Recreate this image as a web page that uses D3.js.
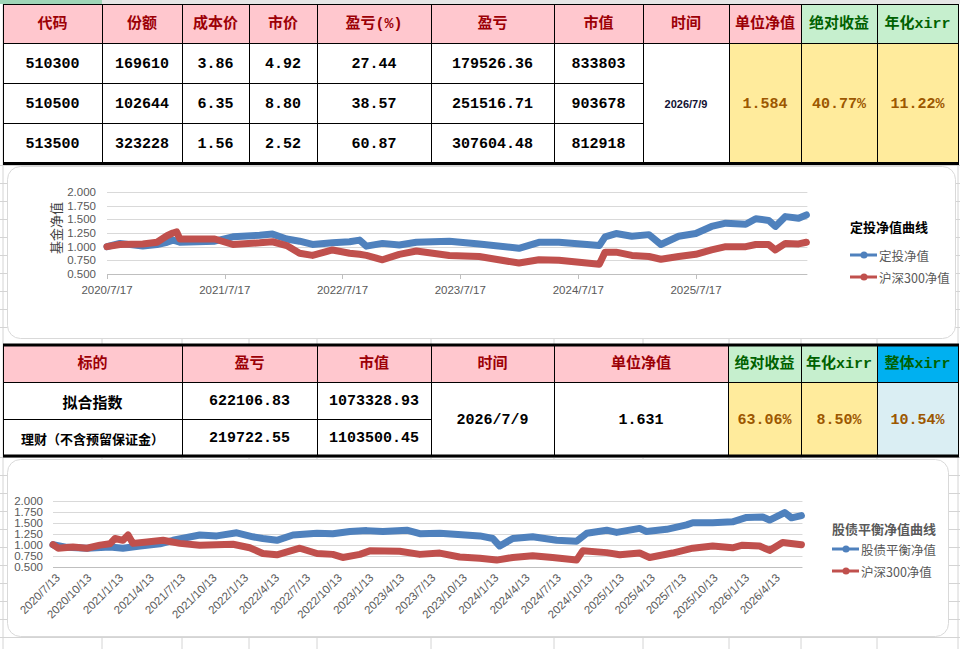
<!DOCTYPE html>
<html>
<head>
<meta charset="utf-8">
<script src="https://cdn.jsdelivr.net/npm/d3@7"></script>
<style>
  body { margin: 0; background: #fff; overflow: hidden; }
  svg { display: block; }
</style>
</head>
<body>
<div id="sheet"></div>
<script>
// ---------- table 1 data ----------
var t1Headers = ["代码", "份额", "成本价", "市价", "盈亏(%)", "盈亏", "市值", "时间", "单位净值", "绝对收益", "年化xirr"];
var t1Codes = ["510300", "510500", "513500"];
var t1Shares = ["169610", "102644", "323228"];
var t1Cost = ["3.86", "6.35", "1.56"];
var t1Price = ["4.92", "8.80", "2.52"];
var t1PnlPct = ["27.44", "38.57", "60.87"];
var t1Pnl = ["179526.36", "251516.71", "307604.48"];
var t1Value = ["833803", "903678", "812918"];
var t1Date = "2026/7/9";
var t1Summary = ["1.584", "40.77%", "11.22%"];

// ---------- table 2 data ----------
var t2Headers = ["标的", "盈亏", "市值", "时间", "单位净值", "绝对收益", "年化xirr", "整体xirr"];
var t2Names = ["拟合指数", "理财（不含预留保证金）"];
var t2Pnl = ["622106.83", "219722.55"];
var t2Value = ["1073328.93", "1103500.45"];
var t2Date = "2026/7/9";
var t2Nav = "1.631";
var t2Summary = ["63.06%", "8.50%", "10.54%"];

// ---------- chart 1: 定投净值曲线 ----------
var c1Dates = ["2020-07-17", "2020-08-26", "2020-11-05", "2020-12-19", "2021-01-19", "2021-02-06", "2021-02-18", "2021-02-28",
  "2021-06-16", "2021-08-11", "2021-11-02", "2021-12-12", "2022-01-25", "2022-03-06", "2022-04-15", "2022-06-16",
  "2022-08-08", "2022-09-08", "2022-09-29", "2022-11-18", "2023-01-09", "2023-03-03", "2023-06-13", "2023-09-14",
  "2024-01-15", "2024-03-17", "2024-05-18", "2024-09-20", "2024-10-08", "2024-11-11", "2024-12-30", "2025-02-21",
  "2025-03-30", "2025-05-24", "2025-07-16", "2025-09-03", "2025-10-17", "2025-12-18", "2026-01-18", "2026-02-27",
  "2026-03-20", "2026-04-20", "2026-05-31", "2026-06-24"];
var c1Fund = [1.00, 1.06, 1.01, 1.04, 1.08, 1.12, 1.10, 1.08, 1.10, 1.18, 1.21, 1.23, 1.14, 1.10, 1.04, 1.07,
  1.09, 1.12, 1.01, 1.06, 1.03, 1.08, 1.10, 1.05, 0.97, 1.08, 1.08, 1.02, 1.18, 1.24, 1.19, 1.22,
  1.04, 1.19, 1.24, 1.37, 1.43, 1.41, 1.51, 1.48, 1.37, 1.55, 1.52, 1.58];
var c1Hs300 = [1.00, 1.04, 1.05, 1.08, 1.20, 1.25, 1.27, 1.14, 1.14, 1.04, 1.07, 1.09, 1.02, 0.88, 0.84, 0.94,
  0.88, 0.86, 0.84, 0.76, 0.86, 0.92, 0.84, 0.82, 0.70, 0.76, 0.75, 0.68, 0.90, 0.90, 0.84, 0.82,
  0.77, 0.82, 0.86, 0.94, 1.00, 1.00, 1.04, 1.04, 0.94, 1.06, 1.05, 1.08];
var c1Ticks = ["2020/7/17", "2021/7/17", "2022/7/17", "2023/7/17", "2024/7/17", "2025/7/17"];
var c1Names = ["定投净值", "沪深300净值"];

// ---------- chart 2: 股债平衡净值曲线 ----------
var c2FundDates = ["2020-07-13", "2020-08-23", "2020-10-20", "2020-12-26", "2021-02-02", "2021-03-24", "2021-05-21", "2021-06-28",
  "2021-09-14", "2021-11-03", "2021-12-31", "2022-02-16", "2022-03-17", "2022-04-27", "2022-06-13", "2022-08-22",
  "2022-10-07", "2022-11-26", "2023-01-14", "2023-03-02", "2023-05-11", "2023-06-18", "2023-08-15", "2023-12-10",
  "2024-01-17", "2024-02-06", "2024-03-15", "2024-05-12", "2024-07-21", "2024-09-17", "2024-10-17", "2024-12-14",
  "2025-01-12", "2025-03-20", "2025-04-09", "2025-06-07", "2025-08-04", "2025-08-22", "2025-10-19", "2025-12-16",
  "2026-01-26", "2026-03-14", "2026-04-03", "2026-05-17", "2026-06-06", "2026-07-05"];
var c2Fund = [1.00, 0.94, 0.92, 0.95, 0.92, 0.97, 1.02, 1.10, 1.22, 1.20, 1.27, 1.18, 1.14, 1.10, 1.22, 1.26,
  1.25, 1.30, 1.32, 1.30, 1.33, 1.25, 1.26, 1.20, 1.14, 0.97, 1.14, 1.18, 1.10, 1.08, 1.26, 1.33,
  1.28, 1.37, 1.30, 1.35, 1.45, 1.50, 1.50, 1.52, 1.62, 1.63, 1.56, 1.73, 1.61, 1.66];
var c2HsDates = ["2020-07-13", "2020-07-28", "2020-09-09", "2020-10-20", "2020-11-27", "2020-12-26", "2021-01-10", "2021-02-02",
  "2021-02-17", "2021-03-03", "2021-04-13", "2021-05-30", "2021-07-18", "2021-09-14", "2021-12-20", "2022-02-07",
  "2022-03-17", "2022-04-27", "2022-07-03", "2022-08-22", "2022-10-07", "2022-11-05", "2022-12-25", "2023-01-23",
  "2023-04-20", "2023-06-18", "2023-08-15", "2023-10-12", "2023-12-10", "2024-01-28", "2024-03-15", "2024-05-12",
  "2024-07-09", "2024-09-17", "2024-10-05", "2024-12-14", "2025-01-21", "2025-03-20", "2025-04-18", "2025-06-24",
  "2025-08-22", "2025-10-19", "2025-12-16", "2026-01-14", "2026-03-05", "2026-04-03", "2026-05-11", "2026-07-05"];
var c2Hs300 = [1.00, 0.92, 0.95, 0.92, 0.99, 1.02, 1.14, 1.10, 1.22, 1.03, 1.06, 1.10, 1.03, 0.99, 1.01, 0.93,
  0.80, 0.77, 0.92, 0.80, 0.78, 0.71, 0.78, 0.86, 0.85, 0.78, 0.81, 0.72, 0.69, 0.65, 0.71, 0.75,
  0.71, 0.65, 0.86, 0.82, 0.77, 0.81, 0.71, 0.81, 0.92, 0.97, 0.93, 0.99, 0.97, 0.87, 1.05, 1.00];
var c2Ticks = ["2020/7/13", "2020/10/13", "2021/1/13", "2021/4/13", "2021/7/13", "2021/10/13", "2022/1/13", "2022/4/13",
  "2022/7/13", "2022/10/13", "2023/1/13", "2023/4/13", "2023/7/13", "2023/10/13", "2024/1/13", "2024/4/13",
  "2024/7/13", "2024/10/13", "2025/1/13", "2025/4/13", "2025/7/13", "2025/10/13", "2026/1/13", "2026/4/13"];
var c2Names = ["股债平衡净值", "沪深300净值"];

var yTicks = [0.5, 0.75, 1.0, 1.25, 1.5, 1.75, 2.0];

// ---------- styles ----------
var MONO = "'Liberation Mono','Noto Sans CJK SC',monospace";
var CJK = "'Noto Sans CJK SC',sans-serif";
var SANS = "'Liberation Sans','Noto Sans CJK SC',sans-serif";
var BLUE = "#4F81BD", RED = "#C0504D";
var PINK = "#FFC7CE", PINK_T = "#9C0006";
var GREEN = "#C6EFCE", GREEN_T = "#006100";
var YELLOW = "#FFEB9C", YELLOW_T = "#9C5700";

var W = 960, H = 649;
var svg = d3.select("#sheet").append("svg").attr("width", W).attr("height", H);
var parseD = d3.timeParse("%Y-%m-%d");
var parseS = d3.timeParse("%Y/%m/%d");

// spreadsheet grid behind everything
var colX = [3, 102, 182, 249, 317, 431, 554, 643, 729, 801, 877, 958];
var bg = svg.append("g");
bg.selectAll("line.v").data(colX).join("line")
  .attr("x1", d => d).attr("x2", d => d).attr("y1", 0).attr("y2", H)
  .attr("stroke", "#D4D4D4");
var rowY = d3.range(165, 345, 18).concat(d3.range(457, H, 18));
bg.selectAll("line.h").data(rowY).join("line")
  .attr("x1", 0).attr("x2", W).attr("y1", d => d + 0.5).attr("y2", d => d + 0.5)
  .attr("stroke", "#D4D4D4");
bg.append("rect").attr("x", 0).attr("y", 0).attr("width", W).attr("height", 4).attr("fill", "#E6E6E6");
bg.append("rect").attr("x", 0).attr("y", 0).attr("width", 102).attr("height", 4).attr("fill", "#9FD5B7");

function cell(g, x0, x1, y0, y1, fill, txt, color, size, font) {
  g.append("rect").attr("x", x0 + 0.5).attr("y", y0 + 0.5)
    .attr("width", x1 - x0).attr("height", y1 - y0)
    .attr("fill", fill).attr("stroke", "#000").attr("stroke-width", 1);
  g.append("text").attr("x", (x0 + x1) / 2).attr("y", (y0 + y1) / 2 + 1)
    .attr("text-anchor", "middle").attr("dominant-baseline", "central")
    .style("font-family", font || MONO).style("font-weight", "bold")
    .style("font-size", (size || 15) + "px").attr("fill", color || "#000")
    .text(txt);
}

// ---------- table 1 ----------
var tb1 = svg.append("g");
var r1 = [4, 43, 83, 123, 163];
t1Headers.forEach(function(h, i) {
  var green = i >= 9;
  cell(tb1, colX[i], colX[i + 1], r1[0], r1[1], green ? GREEN : PINK, h, green ? GREEN_T : PINK_T, 15, MONO);
});
var t1Cols = [t1Codes, t1Shares, t1Cost, t1Price, t1PnlPct, t1Pnl, t1Value];
t1Cols.forEach(function(col, i) {
  col.forEach(function(v, r) {
    cell(tb1, colX[i], colX[i + 1], r1[r + 1], r1[r + 2], "#fff", v, "#000", 15, MONO);
  });
});
cell(tb1, colX[7], colX[8], r1[1], r1[4], "#fff", t1Date, "#111133", 11, SANS);
t1Summary.forEach(function(v, i) {
  cell(tb1, colX[8 + i], colX[9 + i], r1[1], r1[4], YELLOW, v, YELLOW_T, 15, MONO);
});
tb1.append("line").attr("x1", 3).attr("x2", 959).attr("y1", 163.5).attr("y2", 163.5)
  .attr("stroke", "#000").attr("stroke-width", 3);

// ---------- table 2 ----------
var tb2 = svg.append("g");
var c2X = [3, 182, 317, 431, 554, 728, 801, 877, 958];
var r2 = [345, 382, 419, 456];
t2Headers.forEach(function(h, i) {
  var fill = i < 5 ? PINK : (i < 7 ? GREEN : "#00B0F0");
  cell(tb2, c2X[i], c2X[i + 1], r2[0], r2[1], fill, h, i < 5 ? PINK_T : GREEN_T, 15, MONO);
});
cell(tb2, c2X[0], c2X[1], r2[1], r2[2], "#fff", t2Names[0], "#000", 15, CJK);
cell(tb2, c2X[0], c2X[1], r2[2], r2[3], "#fff", t2Names[1], "#000", 13, CJK);
t2Pnl.forEach(function(v, r) { cell(tb2, c2X[1], c2X[2], r2[r + 1], r2[r + 2], "#fff", v, "#000", 15, MONO); });
t2Value.forEach(function(v, r) { cell(tb2, c2X[2], c2X[3], r2[r + 1], r2[r + 2], "#fff", v, "#000", 15, MONO); });
cell(tb2, c2X[3], c2X[4], r2[1], r2[3], "#fff", t2Date, "#000", 15, MONO);
cell(tb2, c2X[4], c2X[5], r2[1], r2[3], "#fff", t2Nav, "#000", 15, MONO);
t2Summary.forEach(function(v, i) {
  cell(tb2, c2X[5 + i], c2X[6 + i], r2[1], r2[3], i < 2 ? YELLOW : "#DAEEF3", v, YELLOW_T, 15, MONO);
});
tb2.append("line").attr("x1", 3).attr("x2", 959).attr("y1", 345).attr("y2", 345)
  .attr("stroke", "#000").attr("stroke-width", 3);
tb2.append("line").attr("x1", 3).attr("x2", 959).attr("y1", 456).attr("y2", 456)
  .attr("stroke", "#000").attr("stroke-width", 3);

// ---------- chart drawing ----------
function drawChart(opt) {
  var g = svg.append("g");
  g.append("rect").attr("x", opt.box[0] + 0.5).attr("y", opt.box[1] + 0.5)
    .attr("width", opt.box[2]).attr("height", opt.box[3]).attr("rx", 13)
    .attr("fill", "#fff").attr("stroke", "#D9D9D9");

  var x = d3.scaleTime().domain(opt.xDomain).range(opt.xRange);
  var y = d3.scaleLinear().domain([0.5, 2]).range(opt.yRange);
  var xEnd = x(d3.max(opt.series[0].dates)) + 1;

  // gridlines
  g.selectAll("line.grid").data(yTicks).join("line")
    .attr("x1", opt.xRange[0]).attr("x2", xEnd)
    .attr("y1", d => Math.round(y(d)) + 0.5).attr("y2", d => Math.round(y(d)) + 0.5)
    .attr("stroke", d => d === 0.5 ? "#BFBFBF" : "#D9D9D9");

  // y axis labels
  g.selectAll("text.yt").data(yTicks).join("text")
    .attr("x", opt.yLabelX).attr("y", d => y(d)).attr("dy", "0.35em")
    .attr("text-anchor", "end").attr("fill", "#595959")
    .style("font-family", SANS).style("font-size", "11.5px")
    .text(d3.format(".3f"));

  // x axis
  var ticks = opt.ticks.map(parseS);
  if (opt.rotate) {
    g.selectAll("text.xt").data(ticks).join("text")
      .attr("transform", d => "translate(" + (x(d) + 5) + "," + (opt.yRange[0] + 9) + ") rotate(-45)")
      .attr("text-anchor", "end").attr("dy", "0.35em").attr("fill", "#595959")
      .style("font-family", SANS).style("font-size", "11.5px")
      .text((d, i) => opt.ticks[i]);
  } else {
    g.selectAll("line.xt").data(ticks).join("line")
      .attr("x1", d => Math.round(x(d)) + 0.5).attr("x2", d => Math.round(x(d)) + 0.5)
      .attr("y1", opt.yRange[0]).attr("y2", opt.yRange[0] + 5)
      .attr("stroke", "#BFBFBF");
    g.selectAll("text.xt").data(ticks).join("text")
      .attr("x", d => x(d)).attr("y", opt.yRange[0] + 20)
      .attr("text-anchor", "middle").attr("fill", "#595959")
      .style("font-family", SANS).style("font-size", "11.5px")
      .text((d, i) => opt.ticks[i]);
  }

  // lines
  var line = d3.line().x(d => x(d[0])).y(d => y(d[1]));
  opt.series.forEach(function(s) {
    var pts = s.dates.map((d, i) => [d, s.values[i]]);
    g.append("path").datum(pts)
      .attr("fill", "none").attr("stroke", s.color).attr("stroke-width", 7)
      .attr("stroke-linejoin", "round").attr("stroke-linecap", "round")
      .attr("d", line);
  });

  // y title
  if (opt.yTitle) {
    g.append("text").attr("transform", "translate(" + opt.yTitle[1] + "," + opt.yTitle[2] + ") rotate(-90)")
      .attr("text-anchor", "middle").attr("dominant-baseline", "central")
      .attr("fill", "#404040").style("font-family", CJK).style("font-size", "13px")
      .text(opt.yTitle[0]);
  }

  // legend
  var L = opt.legend;
  g.append("text").attr("x", L.x).attr("y", L.titleY).attr("dominant-baseline", "central")
    .attr("fill", L.titleColor).style("font-family", CJK).style("font-weight", "bold")
    .style("font-size", "13px").text(L.title);
  opt.series.forEach(function(s, i) {
    var ly = L.itemY[i];
    g.append("line").attr("x1", L.x).attr("x2", L.x + 27).attr("y1", ly).attr("y2", ly)
      .attr("stroke", s.color).attr("stroke-width", 3);
    g.append("circle").attr("cx", L.x + 14).attr("cy", ly).attr("r", 3.5).attr("fill", s.color);
    g.append("text").attr("x", L.x + 29).attr("y", ly).attr("dominant-baseline", "central")
      .attr("fill", "#595959").style("font-family", CJK).style("font-size", "12.5px")
      .text(s.name);
  });
}

drawChart({
  box: [7, 166, 948, 172],
  xDomain: [parseD("2020-07-17"), parseD("2026-07-17")],
  xRange: [107, 107 + 6 * 117.8],
  yRange: [274, 192],
  yLabelX: 96,
  ticks: c1Ticks,
  rotate: false,
  yTitle: ["基金净值", 55, 228],
  series: [
    { name: c1Names[0], dates: c1Dates.map(parseD), values: c1Fund, color: BLUE },
    { name: c1Names[1], dates: c1Dates.map(parseD), values: c1Hs300, color: RED }
  ],
  legend: { x: 850, title: "定投净值曲线", titleColor: "#000", titleY: 226, itemY: [255, 277] }
});

drawChart({
  box: [7, 459, 941, 177],
  xDomain: [parseD("2020-07-13"), parseD("2026-07-13")],
  xRange: [53, 53 + 6 * 125.2],
  yRange: [566.7, 500.7],
  yLabelX: 43,
  ticks: c2Ticks,
  rotate: true,
  yTitle: null,
  series: [
    { name: c2Names[0], dates: c2FundDates.map(parseD), values: c2Fund, color: BLUE },
    { name: c2Names[1], dates: c2HsDates.map(parseD), values: c2Hs300, color: RED }
  ],
  legend: { x: 832, title: "股债平衡净值曲线", titleColor: "#595959", titleY: 528, itemY: [549, 571] }
});
</script>
</body>
</html>
